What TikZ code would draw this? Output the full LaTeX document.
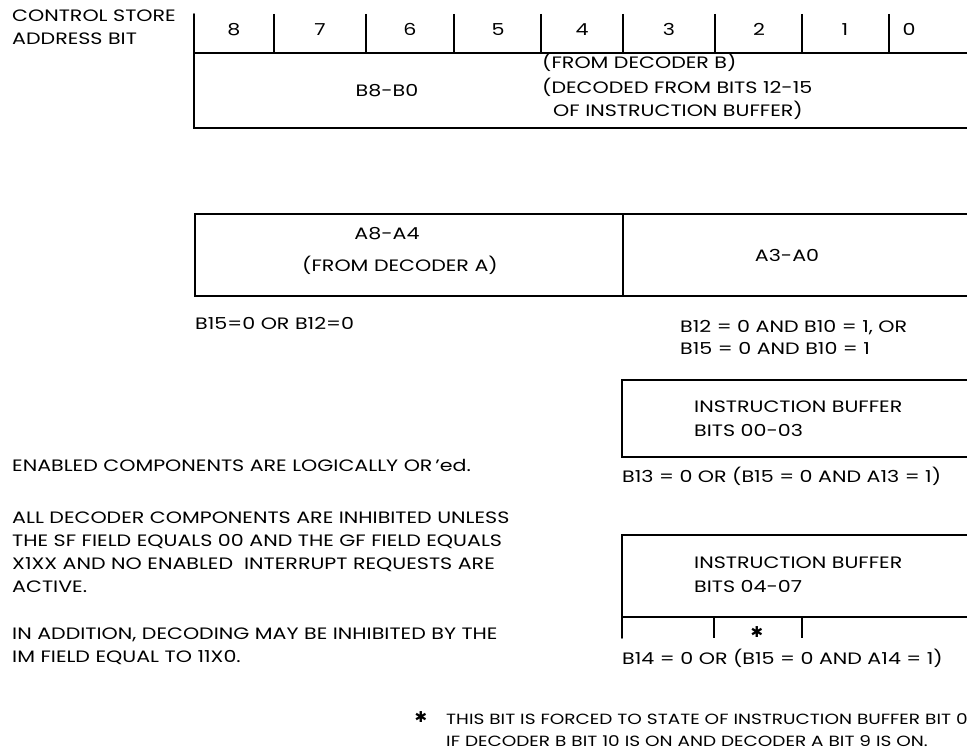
\documentclass[tikz,border=0pt]{standalone}
\usepackage{fontspec}
\setmainfont{Poppins}[FakeStretch=1.25]
\newfontfamily\symfont{DejaVu Sans}
\newcommand{\fs}{\fontsize{16.5}{23}\selectfont}
\newcommand{\fns}{\fontsize{14.8}{22}\selectfont}
\begin{document}
\begin{tikzpicture}[x=1pt,y=-1pt,
  frame/.style={line width=1.6pt, line cap=round, line join=miter},
  tick/.style={line width=1.3pt},
  lbl/.style={inner sep=0pt, anchor=base west, font=\fs},
  clbl/.style={inner sep=0pt, anchor=base, font=\fs},
  flbl/.style={inner sep=0pt, anchor=base west, font=\fns},
  star/.style={inner sep=0pt, anchor=center, font=\symfont\fontsize{15}{15}\selectfont}]
\useasboundingbox (0,0) rectangle (967,752);
% header label
\node[lbl] (csa1) at (12,22) {CONTROL STORE};
\node[lbl] (csa2) at (12,45) {ADDRESS BIT};
% header row and B box
\draw[frame] (194,14) -- (194,128) -- (967,128);
\draw[frame] (194,53) -- (967,53);
\foreach \x in {274,366,454,541,623,715,802,889} \draw[tick] (\x,14) -- (\x,53);
\foreach \d/\x in {8/234,7/320,6/410,5/498,4/582,3/669,2/759,1/845,0/909}
  \node[clbl] (d\d) at (\x,36) {\d};
\node[clbl] (bb) at (387,96) {B8-B0};
\node[lbl] (bt1) at (542,69) {(FROM DECODER B)};
\node[lbl] (bt2) at (542,93) {(DECODED FROM BITS 12-15};
\node[lbl] (bt3) at (553,117) {OF INSTRUCTION BUFFER)};
% A box
\draw[frame] (967,214) -- (195,214) -- (195,296) -- (967,296);
\draw[frame] (623,214) -- (623,296);
\node[clbl] (a84) at (387,239) {A8-A4};
\node[clbl] (fda) at (400,271) {(FROM DECODER A)};
\node[clbl] (a30) at (787,261) {A3-A0};
\node[lbl] (c1) at (195,329) {B15=0 OR B12=0};
\node[lbl] (c2a) at (680,332) {B12 = 0 AND B10 = 1, OR};
\node[lbl] (c2b) at (680,354) {B15 = 0 AND B10 = 1};
% IB 00-03
\draw[frame] (967,380) -- (622,380) -- (622,457) -- (967,457);
\node[lbl] (ib1a) at (694,412) {INSTRUCTION BUFFER};
\node[lbl] (ib1b) at (694,436) {BITS 00-03};
\node[lbl] (c3) at (622,482) {B13 = 0 OR (B15 = 0 AND A13 = 1)};
% IB 04-07
\draw[frame] (967,535) -- (622,535) -- (622,638);
\draw[frame] (622,617) -- (967,617);
\draw[tick] (714,617) -- (714,638);
\draw[tick] (802,617) -- (802,638);
\node[star] (st) at (757,632) {✱};
\node[lbl] (ib2a) at (694,568) {INSTRUCTION BUFFER};
\node[lbl] (ib2b) at (694,592) {BITS 04-07};
\node[lbl] (c4) at (622,664) {B14 = 0 OR (B15 = 0 AND A14 = 1)};
% notes
\node[lbl] (n1) at (12,471) {ENABLED COMPONENTS ARE LOGICALLY OR\,'ed.};
\node[lbl] (n2a) at (12,523) {ALL DECODER COMPONENTS ARE INHIBITED UNLESS};
\node[lbl] (n2b) at (12,546) {THE SF FIELD EQUALS 00 AND THE GF FIELD EQUALS};
\node[lbl] (n2c) at (12,569) {X1XX AND NO ENABLED\ \ INTERRUPT REQUESTS ARE};
\node[lbl] (n2d) at (12,592) {ACTIVE.};
\node[lbl] (n3a) at (12,639) {IN ADDITION, DECODING MAY BE INHIBITED BY THE};
\node[lbl] (n3b) at (12,662) {IM FIELD EQUAL TO 11X0.};
% footnote
\node[star] (fst) at (421,717) {✱};
\node[flbl] (f1) at (446,724) {THIS BIT IS FORCED TO STATE OF INSTRUCTION BUFFER BIT 0};
\node[flbl] (f2) at (446,746) {IF DECODER B BIT 10 IS ON AND DECODER A BIT 9 IS ON.};
\end{tikzpicture}
\end{document}
